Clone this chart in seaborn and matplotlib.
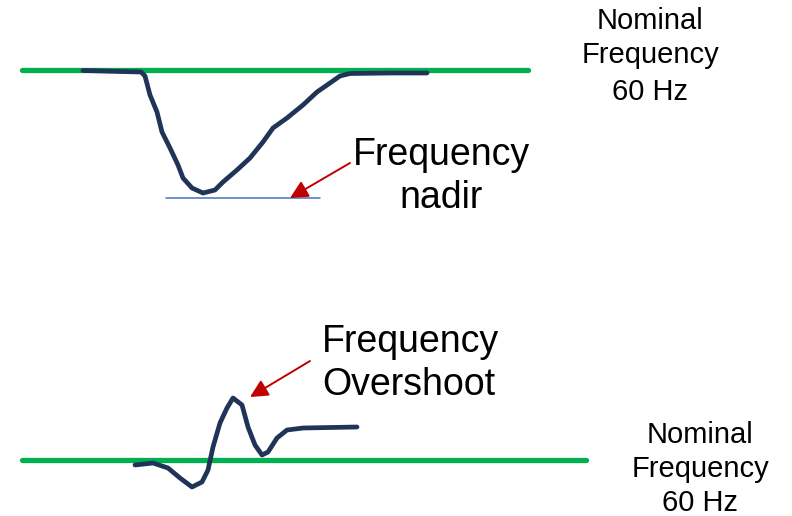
import numpy as np
import pandas as pd
import seaborn as sns
import matplotlib.pyplot as plt

# canvas is laid out in pixel-like units: x to the right, y downward
nominal_top = 69.5
nominal_bottom = 460

# frequency dip (top panel)
dip_t = [83, 120, 141, 145, 150, 157, 162, 170, 178, 183, 192, 203, 215, 223,
         237, 250, 263, 273, 287, 303, 317, 330, 340, 350, 390, 427]
dip_f = [70.5, 71.5, 72, 76, 95, 112, 132, 148, 165, 178, 188, 193, 190, 182,
         170, 158, 142, 128, 118, 105, 92, 83, 76, 73.5, 73, 73]
nadir_t = [166, 320]
nadir_f = [197.5, 197.5]

# frequency overshoot (bottom panel)
over_t = [135, 153, 168, 180, 192, 202, 208, 213, 220, 227, 233, 242, 248,
          255, 262, 268, 277, 287, 303, 357]
over_f = [465, 463, 468, 478, 487, 482, 470, 447, 423, 408, 398, 405, 427,
          445, 455, 452, 438, 430, 428, 427]

green = "#00B050"
navy = "#1F3457"
red = "#C00000"

sns.set_theme(style="white")
plt.rcParams["font.family"] = ["Liberation Sans", "DejaVu Sans"]
plt.rcParams["text.color"] = "black"

fig = plt.figure(figsize=(7.92, 5.16), dpi=100)
ax = fig.add_axes([0, 0, 1, 1])

# nominal frequency lines
sns.lineplot(x=[22, 528], y=[nominal_top] * 2, ax=ax, color=green, lw=3.8)
sns.lineplot(x=[22, 586], y=[nominal_bottom] * 2, ax=ax, color=green, lw=3.8)

sns.lineplot(data=pd.DataFrame({"t": dip_t, "f": dip_f}), x="t", y="f",
             sort=False, ax=ax, color=navy, lw=3.4)
sns.lineplot(x=nadir_t, y=nadir_f, ax=ax, color="#4472C4", lw=1.1)
sns.lineplot(data=pd.DataFrame({"t": over_t, "f": over_f}), x="t", y="f",
             sort=False, ax=ax, color=navy, lw=3.4)

arrow = dict(arrowstyle="-|>,head_length=0.9,head_width=0.45", color=red,
             lw=1.4, mutation_scale=12, shrinkA=0, shrinkB=0)
ax.annotate("", xy=(290, 198), xytext=(350, 163), arrowprops=arrow)
ax.annotate("", xy=(250, 397), xytext=(310, 361), arrowprops=arrow)

big = 27
small = 21
for txt, y in zip(["Frequency", "nadir"], [165, 208]):
    ax.text(441, y, txt, fontsize=big, ha="center", va="baseline")
for txt, y in zip(["Frequency", "Overshoot"], [352, 395]):
    ax.text(322, y, txt, fontsize=big, ha="left", va="baseline")
for txt, y in zip(["Nominal", "Frequency", "60 Hz"], [29, 63, 100]):
    ax.text(650, y, txt, fontsize=small, ha="center", va="baseline")
for txt, y in zip(["Nominal", "Frequency", "60 Hz"], [443, 477, 511]):
    ax.text(700, y, txt, fontsize=small, ha="center", va="baseline")

ax.set_xlim(0, 792)
ax.set_ylim(516, 0)
ax.axis("off")

fig.savefig("out.png", dpi=100)
